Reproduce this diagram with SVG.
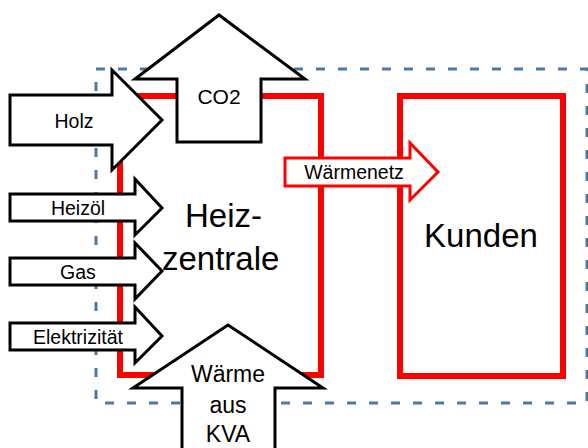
<svg xmlns="http://www.w3.org/2000/svg" width="588" height="448" viewBox="0 0 588 448">
<style>
.bound{fill:none;stroke:#4a79a6;stroke-width:3;stroke-dasharray:9 13}
.box{fill:none;stroke:#ff0000;stroke-width:6}
.arr{fill:#fff;stroke:#000;stroke-width:3;stroke-linejoin:miter}
.rarr{fill:#fff;stroke:#ff0000;stroke-width:3}
text{font-family:"Liberation Sans",Arial,sans-serif;fill:#000;text-anchor:middle}
.s{font-size:19.5px}
.m{font-size:21px}
.k{font-size:23px}
.l{font-size:33px}
</style>
<rect class="bound" x="96" y="69" width="491" height="334"/>
<g id="heizzentrale">
<rect class="box" x="120" y="96" width="201" height="279"/>
<text class="l" x="185" y="227" style="text-anchor:start">Heiz-</text>
<text class="l" x="162" y="270" style="text-anchor:start">zentrale</text>
</g>
<g id="kunden">
<rect class="box" x="400" y="96" width="163" height="280"/>
<text class="l" x="481" y="247">Kunden</text>
</g>
<g id="connectors">
<g id="holz">
<polygon class="arr" points="10,95 112,95 112,70 162,120 112,170 112,145 10,145"/>
<text class="s" x="74" y="128">Holz</text>
</g>
<g id="co2">
<polygon class="arr" points="177,142 177,79 135,79 219,15 305,79 261,79 261,142"/>
<text class="m" x="219" y="104">CO2</text>
</g>
<g id="heizoel">
<polygon class="arr" points="10,194 135,194 135,179 162,208 135,235 135,221 10,221"/>
<text class="s" x="78" y="215">Heizöl</text>
</g>
<g id="gas">
<polygon class="arr" points="10,258 135,258 135,243 162,271 135,299 135,285 10,285"/>
<text class="s" x="78" y="279">Gas</text>
</g>
<g id="elektrizitaet">
<polygon class="arr" points="10,323 135,323 135,307 162,336 135,363 135,350 10,350"/>
<text class="s" x="78" y="344">Elektrizität</text>
</g>
<g id="waerme-kva">
<polygon class="arr" points="182,460 182,388 133,388 228,325 323,388 275,388 275,460"/>
<text class="k" x="228" y="382">Wärme</text>
<text class="k" x="228" y="413">aus</text>
<text class="k" x="228" y="442">KVA</text>
</g>
<g id="waermenetz">
<polygon class="rarr" points="285,158 410,158 410,143 438,172 410,200 410,186 285,186"/>
<text class="s" x="354" y="179">Wärmenetz</text>
</g>
</g>
</svg>
